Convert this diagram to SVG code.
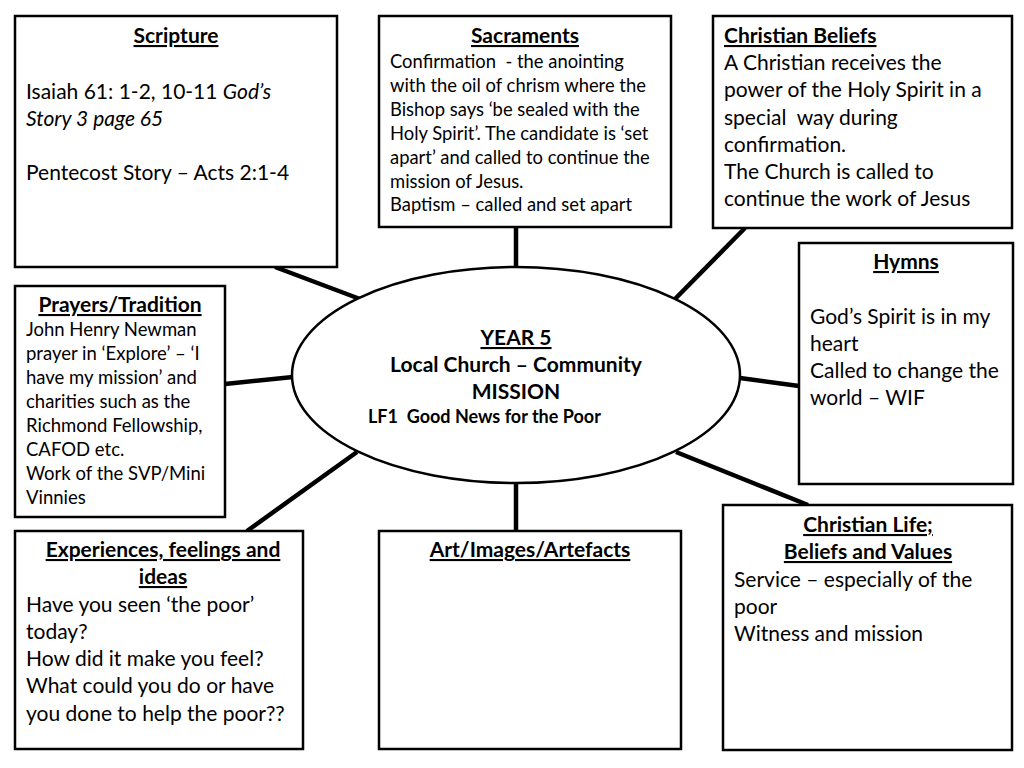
<svg xmlns="http://www.w3.org/2000/svg" width="1024" height="768" viewBox="0 0 1024 768">
<style>
.box{fill:#fff;stroke:#000;stroke-width:2.5}
.conn line{stroke:#000;stroke-width:4.5}
text{font-family:Lato,"Open Sans","Liberation Sans",sans-serif;fill:#000}
.t{font-weight:bold;text-decoration:underline;font-size:21px}
.b20{font-size:21px}
.b18{font-size:18.5px}
.b17{font-size:18.4px}
.c{text-anchor:middle}
</style>
<rect width="1024" height="768" fill="#fff"/>
<g class="conn">
<line x1="275" y1="267" x2="360" y2="299"/>
<line x1="516" y1="227" x2="516" y2="268"/>
<line x1="745" y1="228" x2="675" y2="299"/>
<line x1="740" y1="378" x2="799" y2="386"/>
<line x1="225" y1="384" x2="293" y2="377"/>
<line x1="247" y1="531" x2="357" y2="452"/>
<line x1="516" y1="483" x2="516" y2="531"/>
<line x1="676" y1="452" x2="808" y2="505"/>
</g>
<g id="center">
<ellipse cx="516" cy="375" rx="224" ry="108" fill="#fff" stroke="#000" stroke-width="2.5"/>
<text class="t c" x="516" y="345">YEAR 5</text>
<text class="c" x="516" y="372" font-weight="bold" font-size="21">Local Church – Community</text>
<text class="c" x="516" y="399" font-weight="bold" font-size="21">MISSION</text>
<text x="368" y="423" font-weight="bold" font-size="18">LF1&#160; Good News for the Poor</text>
</g>
<g id="scripture">
<rect class="box" x="15" y="16" width="322" height="251"/>
<text class="t c" x="176" y="43">Scripture</text>
<text class="b20" x="26" y="99">Isaiah 61: 1-2, 10-11 <tspan font-style="italic">God’s</tspan></text>
<text class="b20" x="26" y="126" font-style="italic">Story 3 page 65</text>
<text class="b20" x="26" y="180">Pentecost Story – Acts 2:1-4</text>
</g>
<g id="sacraments">
<rect class="box" x="379" y="16" width="292" height="211"/>
<text class="t c" x="525" y="43">Sacraments</text>
<text class="b17" x="390" y="68">Confirmation&#160; - the anointing</text>
<text class="b17" x="390" y="92">with the oil of chrism where the</text>
<text class="b17" x="390" y="116">Bishop says ‘be sealed with the</text>
<text class="b17" x="390" y="140">Holy Spirit’. The candidate is ‘set</text>
<text class="b17" x="390" y="164">apart’ and called to continue the</text>
<text class="b17" x="390" y="188">mission of Jesus.</text>
<text class="b17" x="390" y="211">Baptism – called and set apart</text>
</g>
<g id="beliefs">
<rect class="box" x="713" y="16" width="299" height="212"/>
<text class="t" x="724" y="43">Christian Beliefs</text>
<text class="b20" x="724" y="70">A Christian receives the</text>
<text class="b20" x="724" y="97">power of the Holy Spirit in a</text>
<text class="b20" x="724" y="125">special&#160; way during</text>
<text class="b20" x="724" y="152">confirmation.</text>
<text class="b20" x="724" y="179">The Church is called to</text>
<text class="b20" x="724" y="206">continue the work of Jesus</text>
</g>
<g id="hymns">
<rect class="box" x="799" y="243" width="214" height="241"/>
<text class="t c" x="906" y="269">Hymns</text>
<text class="b20" x="810" y="324">God’s Spirit is in my</text>
<text class="b20" x="810" y="351">heart</text>
<text class="b20" x="810" y="378">Called to change the</text>
<text class="b20" x="810" y="405">world – WIF</text>
</g>
<g id="prayers">
<rect class="box" x="15" y="286" width="210" height="231"/>
<text class="t c" x="120" y="312">Prayers/Tradition</text>
<text class="b18" x="26" y="336">John Henry Newman</text>
<text class="b18" x="26" y="360">prayer in ‘Explore’ – ‘I</text>
<text class="b18" x="26" y="384">have my mission’ and</text>
<text class="b18" x="26" y="408">charities such as the</text>
<text class="b18" x="26" y="432">Richmond Fellowship,</text>
<text class="b18" x="26" y="456">CAFOD etc.</text>
<text class="b18" x="26" y="480">Work of the SVP/Mini</text>
<text class="b18" x="26" y="504">Vinnies</text>
</g>
<g id="experiences">
<rect class="box" x="15" y="531" width="288" height="218"/>
<text class="t c" x="163" y="557">Experiences, feelings and</text>
<text class="t c" x="163" y="584">ideas</text>
<text class="b20" x="26" y="612">Have you seen ‘the poor’</text>
<text class="b20" x="26" y="639">today?</text>
<text class="b20" x="26" y="666">How did it make you feel?</text>
<text class="b20" x="26" y="693">What could you do or have</text>
<text class="b20" x="26" y="721">you done to help the poor??</text>
</g>
<g id="art">
<rect class="box" x="379" y="531" width="302" height="218"/>
<text class="t c" x="530" y="557">Art/Images/Artefacts</text>
</g>
<g id="life">
<rect class="box" x="723" y="505" width="289" height="245"/>
<text class="t c" x="868" y="532">Christian Life;</text>
<text class="t c" x="868" y="559">Beliefs and Values</text>
<text class="b20" x="734" y="587">Service – especially of the</text>
<text class="b20" x="734" y="614">poor</text>
<text class="b20" x="734" y="641">Witness and mission</text>
</g>
</svg>
